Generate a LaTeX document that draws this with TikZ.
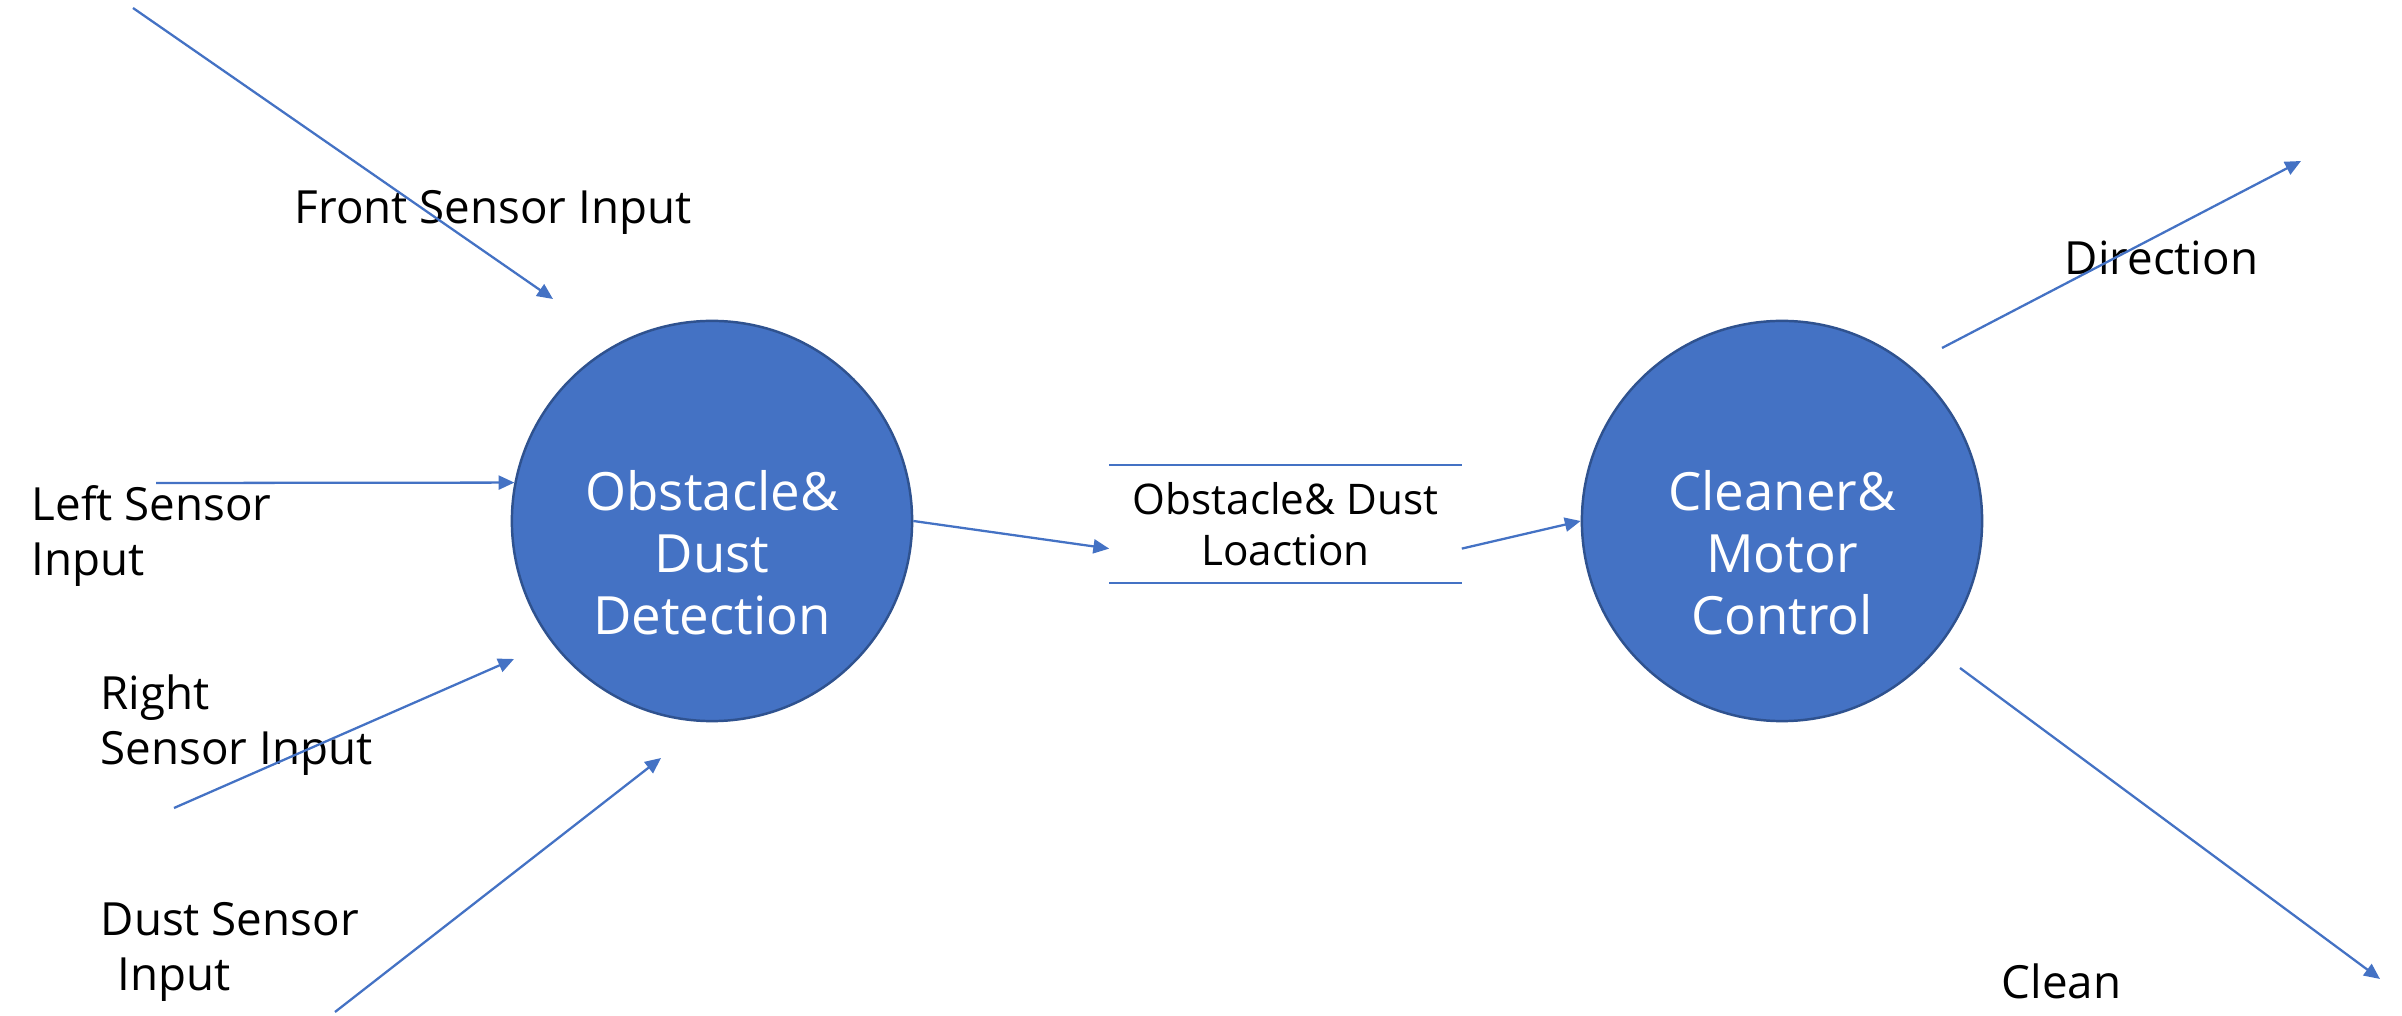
\documentclass[tikz,border=0pt]{standalone}
\usepackage{fontspec}
\setmainfont{Open Sans}
\usetikzlibrary{arrows.meta,positioning}
\definecolor{dfdblue}{HTML}{4472C4}
\definecolor{dfdedge}{HTML}{2F528F}

\begin{document}
\begin{tikzpicture}[
        x=0.01cm, y=-0.01cm,
        process/.style={circle, draw=dfdedge, line width=0.7pt, fill=dfdblue, minimum size=4cm, inner sep=0pt},
        proctext/.style={text=white, align=center, inner sep=0pt, font=\fontsize{15}{17.7}\selectfont},
        datastore/.style={minimum width=3.51cm, minimum height=1.16cm, inner sep=0pt, align=center, font=\fontsize{12}{14.5}\selectfont},
        flowtext/.style={inner sep=0pt, align=left, font=\fontsize{13}{15.6}\selectfont},
        storeline/.style={line width=0.6pt, draw=dfdblue},
        arrow/.style={-{Triangle[length=4.5pt, width=4pt]}, line width=0.65pt, draw=dfdblue},
    ]
    \useasboundingbox (0,0) rectangle (2402,1016);

    % Processes
    \node[process] (obs) at (712,521) {};
    \node[proctext] (obstxt) at ([yshift=-9pt]obs.center) {Obstacle\&\\Dust\\Detection};
    \node[process] (ctrl) at (1782,521) {};
    \node[proctext] (ctrltxt) at ([yshift=-9pt]ctrl.center) {Cleaner\&\\Motor\\Control};

    % Data store
    \node[datastore] (store) at (1285.5,524) {Obstacle\& Dust\\Loaction};
    \draw[storeline] (store.north west) -- (store.north east);
    \draw[storeline] (store.south west) -- (store.south east);

    % Free ends
    \coordinate (frontin) at (133,8);
    \coordinate (fronttip) at (553,299);
    \coordinate (leftin) at (156,483);
    \coordinate (rightin) at (174,808);
    \coordinate (righttip) at (514,659);
    \coordinate (dustin) at (335,1012);
    \coordinate (dusttip) at (661,758);
    \coordinate (dirfrom) at (1942,348);
    \coordinate (dirout) at (2301,161);
    \coordinate (cleanfrom) at (1960,668);
    \coordinate (cleanout) at (2380,979);

    % Labels
    \node[flowtext, anchor=base west] (frontlbl) at (294,224) {Front Sensor Input};
    \node[flowtext, anchor=north west] (leftlbl) at (31,485) {Left Sensor\\Input};
    \node[flowtext, anchor=north west] (rightlbl) at (100,674) {Right\\Sensor Input};
    \node[flowtext, anchor=north west] (dustlbl) at (100,902) {Dust Sensor\\\hspace*{4.8pt}Input};
    \node[flowtext, anchor=base west] (dirlbl) at (2064,275) {Direction};
    \node[flowtext, anchor=base west] (cleanlbl) at (2001,999) {Clean};

    % Lines
    \draw[arrow] (frontin) -- (fronttip);
    \draw[arrow] (leftin) -- (obs.169);
    \draw[arrow] (rightin) -- (righttip);
    \draw[arrow] (dustin) -- (dusttip);
    \draw[arrow] (obs.east) -- ([yshift=-7pt]store.west);
    \draw[arrow] ([yshift=-7pt]store.east) -- (ctrl.west);
    \draw[arrow] (dirfrom) -- (dirout);
    \draw[arrow] (cleanfrom) -- (cleanout);

\end{tikzpicture}
\end{document}
